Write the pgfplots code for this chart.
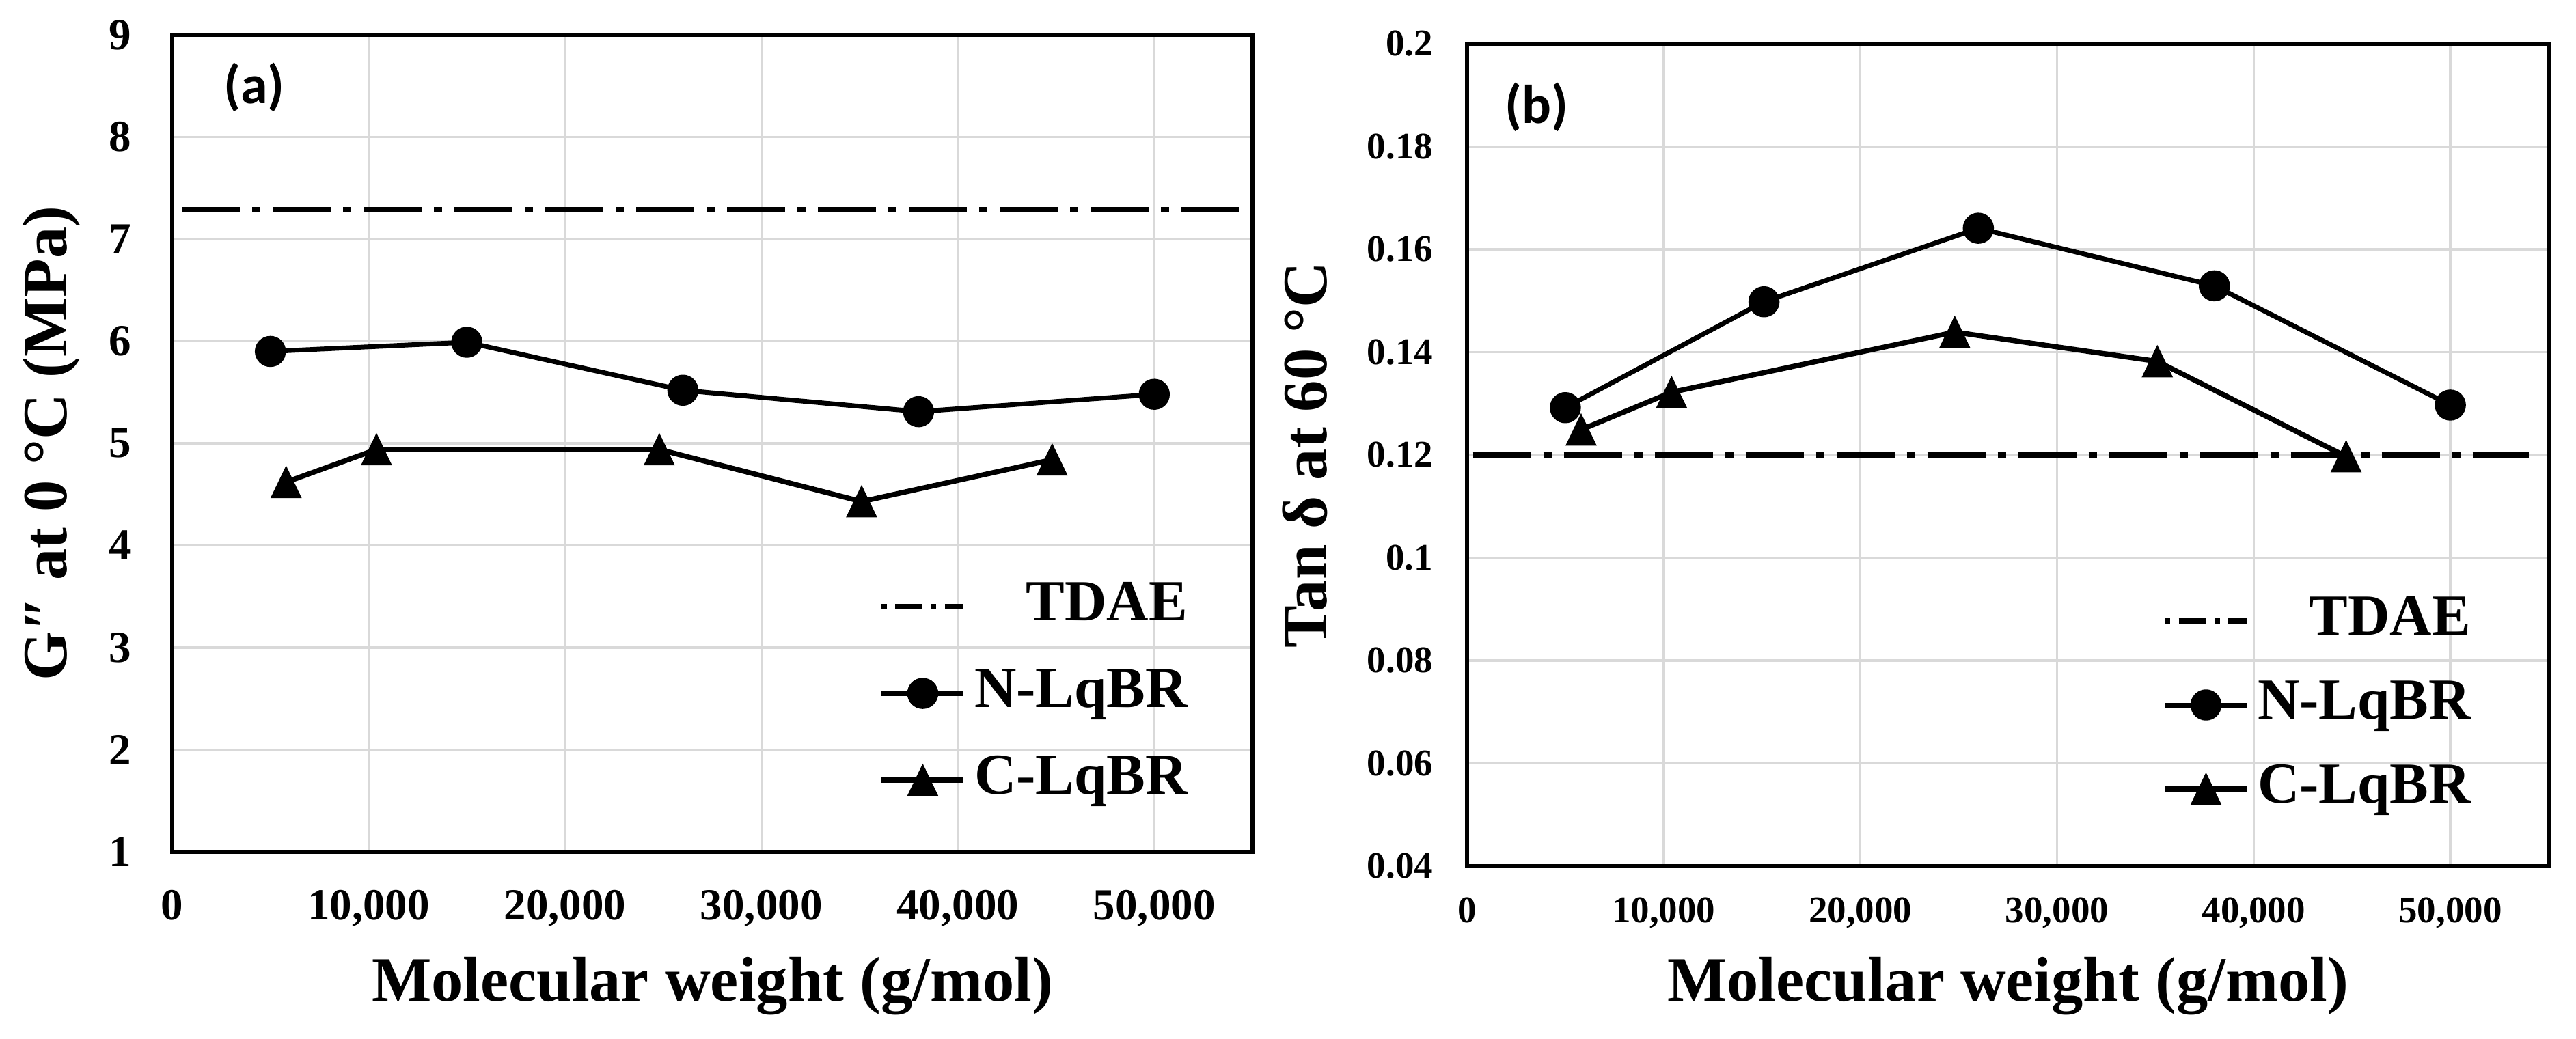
\documentclass[border=0pt]{standalone}
\usepackage{fontspec}
\setmainfont{Liberation Serif}
\newfontfamily\carlito{Carlito}
\usepackage{pgfplots}
\pgfplotsset{compat=1.18}

\pgfplotsset{
  myax/.style={
    scale only axis, anchor=south west,
    xmin=0, xmax=55000,
    xtick={0,10000,20000,30000,40000,50000},
    xticklabels={0,{10,000},{20,000},{30,000},{40,000},{50,000}},
    grid=major,
    major grid style={draw=black!15, line width=0.7pt},
    major tick length=0pt,
    axis line style={line width=1.1pt},
    scaled ticks=false,
    /pgf/number format/assume math mode=true,
    legend cell align=right,
    label style={font=\bfseries\fontsize{18.5}{20}\selectfont},
    xlabel={Molecular weight (g/mol)},
  },
  tdae/.style={black, line width=1.5pt, dash pattern=on 17pt off 3.6pt on 2.4pt off 3.6pt,
    legend image post style={dash pattern=on 1.5pt off 2.5pt on 8pt off 2.5pt}},
  nlq/.style={black, line width=1.4pt, mark=*, mark size=4.4pt, mark options={solid, line width=0.3pt}},
  clq/.style={black, line width=1.5pt, mark=triangle*, mark size=5pt, mark options={solid, line width=0.3pt, yshift=-1.5pt, yscale=1.2}},
  leg/.style={legend style={draw=none, fill=none, inner sep=0pt, anchor=north east,
     font=\bfseries\fontsize{17}{17}\selectfont,
     nodes={inner sep=0pt, text height=12pt, text depth=4pt},
     column sep=2.4pt},
     legend image code/.code={\draw[mark repeat=2, mark phase=2] plot coordinates {(0pt,0pt) (12pt,0pt) (24pt,0pt)};}},
}

\pgfplotstableread{
x y
5000 5.90
15000 5.99
26000 5.52
38000 5.31
50000 5.48
}\Na
\pgfplotstableread{
x y
5800 4.62
10400 4.94
24800 4.94
35100 4.43
44800 4.84
}\Ca
\pgfplotstableread{
x y
5000 0.1292
15100 0.1498
26000 0.1641
38000 0.1529
50000 0.1297
}\Nb
\pgfplotstableread{
x y
5800 0.1249
10400 0.1322
24800 0.1439
35100 0.1382
44700 0.1197
}\Cb

\begin{document}
\begin{tikzpicture}
\path[use as bounding box] (0,0) rectangle (754pt,304.2pt);

\begin{axis}[myax, leg, at={(50.4pt,54.8pt)}, width=316.2pt, height=239.2pt,
  ymin=1, ymax=9, ytick={1,2,3,4,5,6,7,8,9},
  ticklabel style={font=\bfseries\fontsize{13}{13}\selectfont, inner sep=0pt},
  yticklabel style={xshift=-11.8pt}, xticklabel style={yshift=-11pt},
  ylabel={G″ at 0 °C (MPa)},
  xlabel style={at={(axis description cs:0.5,-0.1647)}, anchor=center},
  ylabel style={at={(axis description cs:-0.112,0.5)}, anchor=center},
  legend style={at={(0.9405,0.3344)}, row sep=9.4pt},
]
\addplot[tdae] coordinates {(500,7.29) (54300,7.29)};
\addlegendentry{TDAE}
\addplot[nlq] table[x=x,y=y] {\Na};
\addlegendentry{N-LqBR}
\addplot[clq] table[x=x,y=y] {\Ca};
\addlegendentry{C-LqBR}
\node[font=\carlito\bfseries\fontsize{16}{16}\selectfont] at (rel axis cs:0.0759,0.9356) {(a)};
\end{axis}

\begin{axis}[myax, leg, at={(429.4pt,50.6pt)}, width=316.6pt, height=240.8pt,
  ymin=0.04, ymax=0.2, ytick={0.04,0.06,0.08,0.1,0.12,0.14,0.16,0.18,0.2},
  yticklabel style={/pgf/number format/fixed, /pgf/number format/precision=2},
  ticklabel style={font=\bfseries\fontsize{11}{11}\selectfont, inner sep=0pt},
  yticklabel style={xshift=-9.8pt}, xticklabel style={yshift=-9pt},
  ylabel={Tan δ at 60 °C},
  xlabel style={at={(axis description cs:0.5,-0.146)}, anchor=center},
  ylabel style={at={(axis description cs:-0.1497,0.5)}, anchor=center},
  legend style={at={(0.9286,0.3322)}, row sep=8.6pt},
]
\addplot[tdae] coordinates {(300,0.12) (54000,0.12)};
\addlegendentry{TDAE}
\addplot[nlq] table[x=x,y=y] {\Nb};
\addlegendentry{N-LqBR}
\addplot[clq] table[x=x,y=y] {\Cb};
\addlegendentry{C-LqBR}
\node[font=\carlito\bfseries\fontsize{16}{16}\selectfont] at (rel axis cs:0.0644,0.9228) {(b)};
\end{axis}
\end{tikzpicture}
\end{document}
